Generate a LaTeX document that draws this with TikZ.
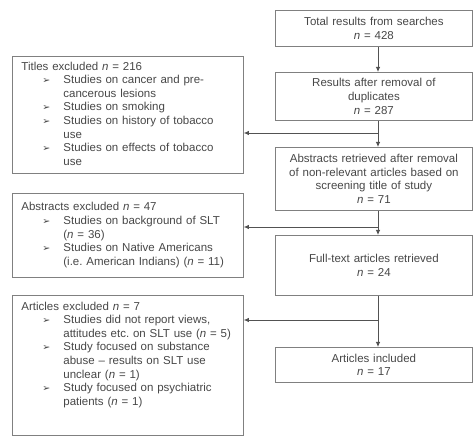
\documentclass[tikz,border=0pt]{standalone}
\usepackage{fontspec}
\setmainfont{Liberation Sans}
\newfontfamily\arrowfont{DejaVu Sans}
\usepackage{tikz}
\usetikzlibrary{arrows,arrows.meta,positioning,calc}

\definecolor{boxline}{gray}{0.5}
\definecolor{flowtext}{gray}{0.28}
\definecolor{flowline}{gray}{0.32}

\newcommand{\bul}{{\arrowfont\fontsize{9.5}{9.5}\selectfont ➢}}
\newcommand{\nn}{\textit{n}}

\begin{document}
\begin{tikzpicture}[->,>={Latex[length=5pt,width=4.5pt]},x=1pt,y=-1pt,
line width=0.8pt, draw=flowline]
\tikzstyle{stage}=[rectangle, draw=boxline, text=flowtext, anchor=north west,
 minimum width=197pt, text width=190pt, align=center, inner sep=2pt,
 font=\fontsize{11.5}{13.8}\selectfont]
\tikzstyle{excluded}=[rectangle, draw=boxline, text=flowtext, anchor=north west,
 minimum width=231pt, text width=213pt, align=left, inner xsep=9pt, inner ysep=3pt,
 font=\fontsize{11.5}{13.6}\selectfont]

\useasboundingbox (0,0) rectangle (474,443);

%main column
\node[stage, minimum height=36pt] (tot) at (275,10) {Total results from searches\\\nn{} = 428};
\node[stage, minimum height=48pt] (res) at (275,72) {Results after removal of\\duplicates\\\nn{} = 287};
\node[stage, minimum height=63pt] (abs) at (275,147) {Abstracts retrieved after removal\\of non-relevant articles based on\\screening title of study\\\nn{} = 71};
\node[stage, minimum height=60pt] (full) at (275,235) {Full-text articles retrieved\\\nn{} = 24};
\node[stage, minimum height=35pt] (incl) at (275,347) {Articles included\\\nn{} = 17};

%exclusions
\node[excluded, minimum height=117pt] (titles) at (12,56) {%
\begin{tabular}{@{}p{21pt}@{}p{21pt}@{}l@{}}
\multicolumn{3}{@{}l@{}}{Titles excluded \nn{} = 216}\\
 & \bul & Studies on cancer and pre-\\
 & & cancerous lesions\\
 & \bul & Studies on smoking\\
 & \bul & Studies on history of tobacco\\
 & & use\\
 & \bul & Studies on effects of tobacco\\
 & & use
\end{tabular}};

\node[excluded, minimum height=84pt] (abstracts) at (12,193) {%
\begin{tabular}{@{}p{21pt}@{}p{21pt}@{}l@{}}
\multicolumn{3}{@{}l@{}}{Abstracts excluded \nn{} = 47}\\
 & \bul & Studies on background of SLT\\
 & & (\nn{} = 36)\\
 & \bul & Studies on Native Americans\\
 & & (i.e.\ American Indians) (\nn{} = 11)
\end{tabular}};

\node[excluded, minimum height=140pt] (articles) at (12,295) {%
\begin{tabular}{@{}p{21pt}@{}p{21pt}@{}l@{}}
\multicolumn{3}{@{}l@{}}{Articles excluded \nn{} = 7}\\
 & \bul & Studies did not report views,\\
 & & attitudes etc.\ on SLT use (\nn{} = 5)\\
 & \bul & Study focused on substance\\
 & & abuse -- results on SLT use\\
 & & unclear (\nn{} = 1)\\
 & \bul & Study focused on psychiatric\\
 & & patients (\nn{} = 1)\\[21pt]
\end{tabular}};

%trunk and branches
\coordinate (trunk) at (378,0);
\coordinate (cut1) at (378,133);
\coordinate (cut2) at (378,227);
\coordinate (cut3) at (378,320);

\draw (tot.south -| trunk) -- (res.north -| trunk);
\draw (res.south -| trunk) -- (abs.north -| trunk);
\draw (cut1) -- (cut1 -| titles.east);
\draw (abs.south -| trunk) -- (full.north -| trunk);
\draw (cut2) -- (cut2 -| abstracts.east);
\draw (full.south -| trunk) -- (incl.north -| trunk);
\draw (cut3) -- (cut3 -| articles.east);

\end{tikzpicture}
\end{document}
